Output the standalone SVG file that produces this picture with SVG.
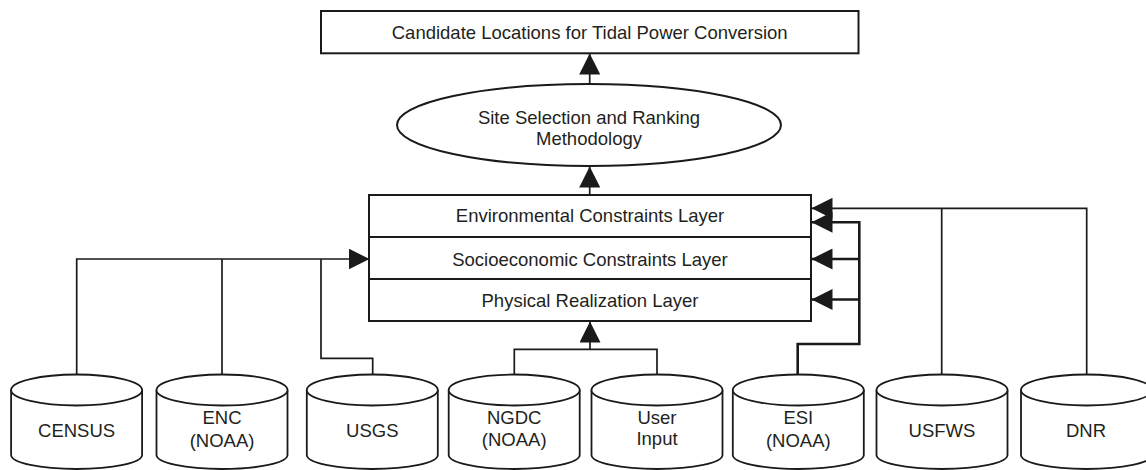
<svg xmlns="http://www.w3.org/2000/svg" width="1146" height="470" viewBox="0 0 1146 470">
<style>
.box{fill:#fff;stroke:#1a1a1a;stroke-width:2}
.cyl{fill:#fff;stroke:#1a1a1a;stroke-width:1.8}
.t{font-family:"Liberation Sans",Arial,Helvetica,sans-serif;font-size:18.5px;fill:#231f20;text-anchor:middle}
.c{fill:none;stroke:#1a1a1a;stroke-width:1.7}
.ct{fill:none;stroke:#1a1a1a;stroke-width:2.6}
</style>
<defs>
<marker id="ah" markerUnits="userSpaceOnUse" markerWidth="21" markerHeight="21" viewBox="0 0 21 21" refX="20.5" refY="10.5" orient="auto">
<path d="M0,0 L21,10.5 L0,21 z" fill="#1a1a1a"/>
</marker>
<g id="cylshape">
<path d="M-65.5,390 L-65.5,455 A65.5,14 0 0 0 65.5,455 L65.5,390" class="cyl"/>
<ellipse cx="0" cy="390" rx="65.5" ry="15.5" class="cyl"/>
</g>
</defs>
<rect width="1146" height="470" fill="#fff"/>

<g id="connectors">
<path class="c" d="M589.7,84 V54" marker-end="url(#ah)"/>
<path class="c" d="M589.7,195 V167" marker-end="url(#ah)"/>
<path class="c" d="M76.7,375 V259 H369" marker-end="url(#ah)"/>
<path class="c" d="M222,375 V259"/>
<path class="c" d="M372.7,375 V358.3 H321 V259"/>
<path class="c" d="M514.3,376 V349.3 H657 V376"/>
<path class="c" d="M590,349.3 V322" marker-end="url(#ah)"/>
<path class="ct" d="M797.7,375 V344 H859.3 V222.3 H812" marker-end="url(#ah)"/>
<path class="ct" d="M859.3,259 H812" marker-end="url(#ah)"/>
<path class="ct" d="M859.3,299.5 H812" marker-end="url(#ah)"/>
<path class="c" d="M1086.7,375 V208.3 H812" marker-end="url(#ah)"/>
<path class="c" d="M941.7,375 V208.3"/>
</g>

<g id="candidate">
<rect class="box" x="321" y="11" width="537.5" height="42.3"/>
<text class="t" x="589.7" y="39.3">Candidate Locations for Tidal Power Conversion</text>
</g>

<g id="methodology">
<ellipse class="box" cx="589" cy="125" rx="192" ry="41"/>
<text class="t" x="589" y="124">Site Selection and Ranking</text>
<text class="t" x="589" y="144.5">Methodology</text>
</g>

<g id="env-layer">
<rect class="box" x="369" y="195" width="442" height="42"/>
<text class="t" x="590" y="222.3">Environmental Constraints Layer</text>
</g>
<g id="socio-layer">
<rect class="box" x="369" y="237" width="442" height="42"/>
<text class="t" x="590" y="265.5">Socioeconomic Constraints Layer</text>
</g>
<g id="phys-layer">
<rect class="box" x="369" y="279" width="442" height="42"/>
<text class="t" x="590" y="306.7">Physical Realization Layer</text>
</g>

<g id="census"><use href="#cylshape" x="76.6"/><text class="t" x="76.6" y="437">CENSUS</text></g>
<g id="enc"><use href="#cylshape" x="222"/><text class="t" x="222" y="424">ENC</text><text class="t" x="222" y="446.5">(NOAA)</text></g>
<g id="usgs"><use href="#cylshape" x="372.3"/><text class="t" x="372.3" y="437">USGS</text></g>
<g id="ngdc"><use href="#cylshape" x="514.2"/><text class="t" x="514.2" y="424">NGDC</text><text class="t" x="514.2" y="446">(NOAA)</text></g>
<g id="user"><use href="#cylshape" x="657"/><text class="t" x="657" y="424">User</text><text class="t" x="657" y="445">Input</text></g>
<g id="esi"><use href="#cylshape" x="798.3"/><text class="t" x="798.3" y="424">ESI</text><text class="t" x="798.3" y="446.5">(NOAA)</text></g>
<g id="usfws"><use href="#cylshape" x="942"/><text class="t" x="942" y="437">USFWS</text></g>
<g id="dnr"><use href="#cylshape" x="1086.5"/><text class="t" x="1086" y="437">DNR</text></g>
</svg>
